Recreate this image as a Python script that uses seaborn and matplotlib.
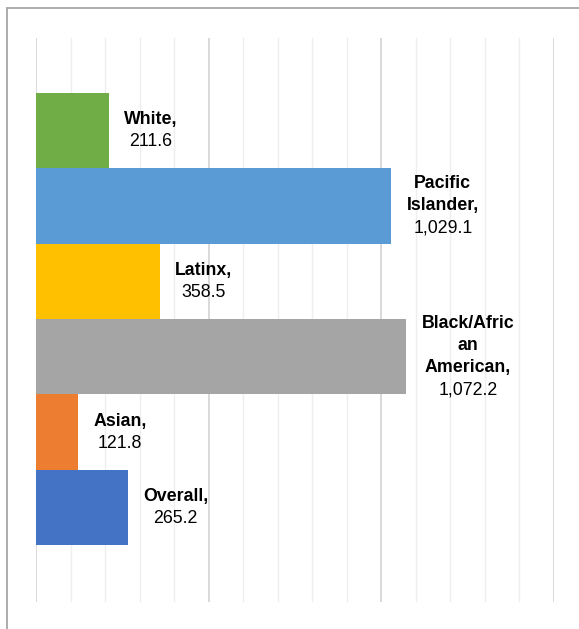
import numpy as np
import pandas as pd
import matplotlib
matplotlib.use("Agg")
import matplotlib.pyplot as plt
from matplotlib.lines import Line2D
import seaborn as sns

# data
groups = ["White", "Pacific Islander", "Latinx", "Black/African American", "Asian", "Overall"]
label_names = ["White,", "Pacific\nIslander,", "Latinx,", "Black/Afric\nan\nAmerican,", "Asian,", "Overall,"]
values = [211.6, 1029.1, 358.5, 1072.2, 121.8, 265.2]
colors = ["#70AD47", "#5B9BD5", "#FFC000", "#A5A5A5", "#ED7D31", "#4472C4"]

df = pd.DataFrame({"group": groups, "value": values})

sns.set_style("white")
plt.rcParams["font.family"] = ["Liberation Sans", "DejaVu Sans"]

fig = plt.figure(figsize=(5.79, 6.29), dpi=100)
ax = fig.add_axes([36 / 579, 1 - 602 / 629, 518 / 579, 564 / 629])

sns.barplot(data=df, x="value", y="group", hue="group", palette=colors,
            orient="h", width=1.0, legend=False, saturation=1, linewidth=0,
            ax=ax, zorder=3)

ax.set_xlim(0, 1500)
ax.set_ylim(6.255, -1.228)
ax.set_xticks(np.arange(0, 1501, 500))
ax.set_xticks(np.arange(0, 1501, 100), minor=True)
ax.grid(which="major", axis="x", color="#D9D9D9", linewidth=1.4, zorder=0)
ax.grid(which="minor", axis="x", color="#EEEEEE", linewidth=1.0, zorder=0)
ax.grid(False, axis="y")
ax.tick_params(which="both", length=0, labelbottom=False, labelleft=False)
ax.set_xlabel("")
ax.set_ylabel("")
for s in ax.spines.values():
    s.set_visible(False)

# data labels: bold category name, regular value, lines centred in one block
fs = 12.8
step = 22 / 100 * 72  # line spacing in points
renderer = fig.canvas.get_renderer()
for i, (name, v) in enumerate(zip(label_names, values)):
    n_lines = name.count("\n") + 1
    lines = name.split("\n") + [f"{v:,.1f}"]
    weights = ["bold"] * n_lines + ["normal"]
    tmp = [ax.text(0, 0, line, fontsize=fs, fontweight=w) for line, w in zip(lines, weights)]
    block_w = max(t.get_window_extent(renderer).width for t in tmp) * 72 / 100
    for t in tmp:
        t.remove()
    total = (len(lines) - 1) * step
    for j, (line, w) in enumerate(zip(lines, weights)):
        ax.annotate(line, xy=(v, i), xytext=(11 + block_w / 2, total / 2 - j * step),
                    textcoords="offset points", ha="center", va="center",
                    fontsize=fs, fontweight=w, color="black")

# chart frame (left and top edges visible)
fig.add_artist(Line2D([7 / 579, 7 / 579], [0, 1 - 8 / 629], transform=fig.transFigure,
                      color="#A6A6A6", linewidth=1.3))
fig.add_artist(Line2D([7 / 579, 1], [1 - 8 / 629, 1 - 8 / 629], transform=fig.transFigure,
                      color="#A6A6A6", linewidth=1.3))

fig.savefig("out.png", dpi=100)
